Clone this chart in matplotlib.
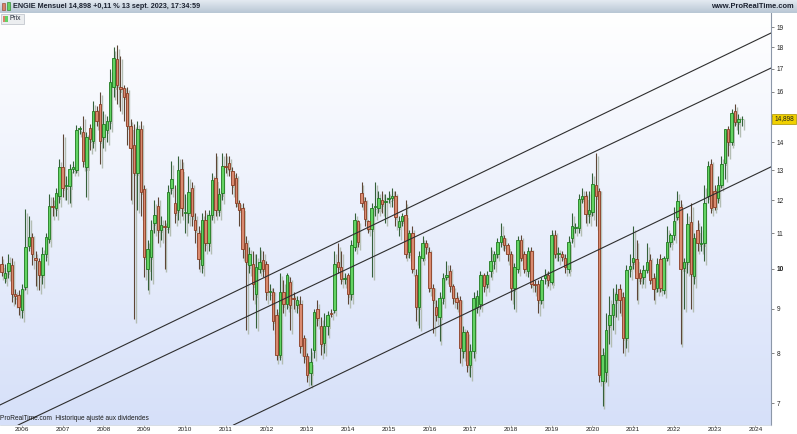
import numpy as np
import pandas as pd
import matplotlib
matplotlib.use("Agg")
import matplotlib.pyplot as plt
from matplotlib.colors import LinearSegmentedColormap
from matplotlib.patches import Rectangle
from matplotlib.transforms import ScaledTranslation
from matplotlib.ticker import FixedLocator, FixedFormatter, NullLocator, NullFormatter

plt.rcParams['font.family'] = ['Liberation Sans', 'DejaVu Sans']

# ENGIE monthly candles, Jul 2005 -> Sep 2023 (prices adjusted for dividends)
months = pd.period_range("2005-07", "2023-09", freq="M")

opens = [
    10.12, 9.75, 9.94, 10.10, 9.35, 9.33, 8.98, 9.53, 10.64, 10.89,
    10.30, 10.20, 9.84, 10.40, 10.83, 11.83, 11.77, 12.12, 13.10, 12.45,
    12.45, 13.05, 13.00, 14.50, 14.39, 13.10, 14.55, 14.05, 15.22, 15.50,
    14.20, 14.45, 14.82, 16.20, 17.45, 16.20, 16.15, 15.95, 14.60, 13.90,
    12.90, 14.50, 12.35, 10.00, 10.33, 11.30, 11.83, 11.10, 11.20, 11.19,
    12.40, 11.90, 11.70, 13.05, 11.60, 11.60, 12.40, 11.40, 11.00, 10.10,
    11.40, 10.70, 11.55, 12.72, 11.70, 12.22, 13.14, 13.26, 12.96, 12.72,
    11.90, 11.75, 10.70, 10.10, 10.12, 9.35, 10.00, 10.25, 10.12, 9.40,
    9.40, 8.85, 7.96, 9.40, 9.10, 9.65, 9.25, 9.08, 9.10, 8.33,
    7.93, 7.59, 8.07, 9.00, 8.60, 8.22, 8.60, 8.90, 8.98, 10.19,
    10.05, 9.74, 9.84, 9.35, 10.61, 11.37, 12.22, 11.96, 11.37, 11.13,
    11.80, 11.74, 12.00, 11.95, 12.05, 12.07, 12.12, 11.19, 11.37, 11.55,
    10.45, 11.00, 9.85, 9.05, 10.30, 10.70, 10.45, 9.50, 9.05, 8.80,
    9.25, 9.80, 9.95, 9.55, 9.25, 9.20, 8.05, 8.45, 7.75, 8.05,
    9.05, 9.10, 9.85, 9.60, 9.95, 10.20, 10.40, 10.75, 10.85, 10.65,
    10.40, 9.50, 10.00, 10.80, 10.40, 9.95, 10.50, 9.62, 9.60, 9.20,
    9.75, 9.85, 9.65, 10.95, 10.40, 10.40, 10.30, 10.00, 10.85, 11.15,
    11.15, 12.05, 12.12, 11.58, 11.62, 12.50, 12.29, 7.43, 7.60, 8.62,
    8.85, 9.20, 9.47, 9.28, 8.33, 10.00, 10.19, 10.28, 9.90, 9.80,
    9.97, 10.25, 9.75, 9.50, 10.28, 9.45, 10.30, 10.75, 10.95, 11.49,
    11.80, 10.02, 10.19, 11.34, 9.82, 11.10, 10.68, 10.70, 12.12, 13.22,
    12.29, 12.07, 12.50, 13.25, 14.48, 13.99, 15.20, 14.78, 14.88,
]
highs = [
    10.36, 10.14, 10.41, 10.30, 9.48, 9.45, 9.60, 11.71, 11.50, 11.00,
    10.50, 10.30, 10.60, 11.00, 12.20, 12.10, 12.40, 13.40, 14.30, 12.80,
    13.20, 13.30, 14.65, 14.60, 15.00, 14.40, 14.70, 15.60, 15.40, 16.00,
    15.20, 15.00, 17.00, 18.00, 18.10, 17.60, 16.30, 16.20, 14.90, 14.70,
    14.80, 14.80, 12.50, 10.80, 11.40, 12.00, 12.10, 11.50, 11.40, 12.50,
    13.30, 12.50, 13.50, 13.40, 12.20, 12.80, 12.60, 11.60, 11.20, 11.60,
    11.70, 11.70, 12.90, 13.60, 12.40, 13.60, 13.60, 13.50, 13.10, 12.90,
    12.00, 11.90, 10.90, 10.60, 10.50, 10.40, 10.60, 10.50, 10.20, 9.60,
    9.50, 9.00, 9.90, 9.70, 9.90, 9.80, 9.40, 9.30, 9.30, 8.40,
    8.00, 8.10, 9.00, 9.20, 8.80, 8.90, 8.95, 9.00, 10.50, 10.70,
    10.50, 9.90, 9.90, 10.80, 11.60, 11.40, 12.60, 12.10, 11.40, 11.90,
    12.60, 12.30, 12.30, 12.20, 12.30, 12.40, 12.30, 11.50, 11.60, 12.00,
    11.10, 11.20, 10.00, 10.50, 10.90, 10.80, 10.60, 9.60, 9.20, 9.40,
    9.90, 10.20, 10.10, 9.60, 9.40, 9.30, 8.60, 8.50, 8.20, 9.40,
    9.45, 9.95, 9.90, 9.95, 10.60, 10.50, 10.85, 11.30, 10.95, 10.70,
    10.50, 10.15, 10.90, 10.95, 10.50, 10.60, 10.60, 9.70, 9.70, 9.80,
    10.00, 9.95, 11.10, 11.10, 10.60, 10.50, 10.40, 10.90, 11.60, 11.30,
    12.20, 12.40, 12.30, 12.30, 12.90, 13.60, 12.40, 8.10, 8.90, 9.30,
    9.50, 9.60, 9.60, 9.40, 10.10, 10.40, 11.20, 10.80, 10.00, 10.10,
    10.70, 10.40, 9.90, 10.30, 10.40, 10.35, 11.20, 11.00, 11.80, 12.30,
    12.00, 10.30, 11.60, 11.90, 11.00, 11.40, 11.20, 12.50, 13.30, 13.40,
    12.50, 12.80, 13.50, 14.50, 14.60, 15.30, 15.50, 15.10, 15.00,
]
lows = [
    9.81, 9.63, 9.76, 9.15, 9.10, 8.85, 8.77, 9.45, 10.50, 10.10,
    9.55, 9.45, 9.60, 10.20, 10.70, 11.50, 11.50, 11.90, 12.10, 12.00,
    11.90, 12.90, 12.90, 14.30, 13.10, 12.10, 13.70, 13.80, 14.60, 13.20,
    13.80, 14.00, 14.50, 15.80, 15.50, 15.20, 14.80, 13.90, 12.00, 8.75,
    11.70, 11.50, 9.80, 9.45, 9.70, 11.00, 10.70, 10.80, 10.00, 11.00,
    12.20, 11.30, 11.40, 11.50, 11.00, 11.30, 11.20, 10.70, 10.00, 9.90,
    10.50, 10.50, 11.40, 11.50, 11.50, 12.00, 12.90, 12.80, 12.20, 11.80,
    11.20, 10.30, 8.50, 9.90, 9.20, 8.55, 9.90, 9.80, 9.20, 9.20,
    8.50, 7.85, 7.85, 8.90, 9.00, 8.50, 9.00, 8.90, 8.00, 7.80,
    7.40, 7.35, 7.90, 8.60, 7.95, 8.00, 8.40, 8.80, 8.90, 9.90,
    9.60, 9.60, 9.10, 9.20, 10.50, 10.60, 11.80, 11.20, 11.00, 9.80,
    11.50, 11.60, 11.60, 11.30, 11.90, 11.80, 11.20, 10.90, 11.20, 10.30,
    10.30, 9.90, 8.70, 8.55, 10.20, 10.40, 9.40, 8.44, 8.70, 8.25,
    9.10, 9.70, 9.40, 9.10, 9.00, 7.80, 7.90, 7.60, 7.50, 7.90,
    8.90, 9.00, 9.40, 9.50, 9.80, 10.00, 10.30, 10.60, 10.50, 10.20,
    9.20, 9.00, 9.90, 10.20, 9.90, 9.80, 9.50, 9.40, 8.90, 9.10,
    9.60, 9.55, 9.60, 10.30, 10.20, 10.20, 9.90, 9.90, 10.70, 11.00,
    11.00, 11.90, 11.30, 11.30, 11.50, 11.20, 7.40, 6.95, 7.40, 8.20,
    8.50, 8.80, 8.90, 8.00, 8.10, 9.80, 10.00, 9.20, 9.60, 9.60,
    9.90, 9.60, 9.20, 9.40, 9.40, 9.35, 10.20, 10.60, 10.80, 11.40,
    8.20, 9.00, 9.90, 9.00, 9.60, 10.50, 10.50, 10.20, 11.90, 11.60,
    11.70, 11.90, 12.40, 12.70, 13.50, 13.90, 14.60, 14.30, 14.60,
]
closes = [
    9.92, 9.90, 10.16, 9.35, 9.30, 9.03, 9.48, 10.61, 10.89, 10.40,
    10.25, 9.84, 10.40, 10.89, 11.83, 11.80, 12.22, 13.10, 12.40, 12.50,
    13.05, 13.10, 14.47, 14.52, 13.31, 14.20, 14.10, 15.22, 14.82, 14.05,
    14.70, 14.80, 16.40, 17.50, 16.30, 16.10, 15.80, 14.60, 13.80, 12.90,
    14.50, 12.27, 10.33, 10.55, 11.10, 11.55, 11.10, 11.25, 11.19, 12.27,
    12.68, 11.60, 13.00, 11.75, 11.62, 12.25, 11.50, 11.10, 10.27, 11.40,
    10.72, 11.55, 12.65, 11.70, 12.19, 13.14, 13.10, 13.05, 12.50, 11.90,
    11.70, 10.55, 10.19, 10.40, 9.60, 10.05, 10.19, 10.00, 9.40, 9.42,
    8.72, 7.96, 9.40, 9.10, 9.84, 9.08, 9.23, 9.22, 8.15, 7.93,
    7.55, 7.81, 8.91, 8.79, 8.20, 8.60, 8.85, 8.88, 10.13, 10.05,
    9.74, 9.76, 9.35, 10.66, 11.40, 10.75, 11.90, 11.43, 11.13, 11.74,
    11.82, 12.07, 11.88, 11.96, 12.07, 12.15, 11.49, 11.37, 11.52, 10.40,
    11.00, 10.00, 9.05, 10.35, 10.70, 10.60, 9.50, 9.20, 8.85, 9.25,
    9.75, 9.85, 9.55, 9.25, 9.15, 8.10, 8.45, 7.75, 8.05, 9.25,
    9.30, 9.85, 9.55, 9.85, 10.20, 10.40, 10.75, 10.90, 10.65, 10.40,
    9.50, 10.05, 10.80, 10.30, 10.00, 10.50, 9.60, 9.58, 9.20, 9.70,
    9.85, 9.70, 10.95, 10.40, 10.42, 10.33, 10.05, 10.75, 11.20, 11.17,
    12.05, 12.15, 11.58, 11.68, 12.52, 12.12, 7.55, 7.95, 8.50, 8.85,
    9.10, 9.35, 9.20, 8.33, 9.97, 10.08, 10.30, 9.75, 9.75, 9.97,
    10.19, 9.70, 9.47, 10.12, 9.50, 10.30, 10.75, 10.95, 11.37, 11.96,
    10.00, 10.19, 11.28, 9.87, 10.85, 10.70, 10.70, 11.90, 13.14, 11.77,
    11.80, 12.50, 13.22, 14.48, 13.99, 15.13, 14.78, 14.88, 14.898,
]

# trend channel (month index, price) at both ends
trend_x = [[-0.5, 226.6], [4.9, 226.6], [68.3, 226.6]]
trend_y = [[6.97, 18.70], [6.61, 17.04], [6.61, 13.11]]

years = list(range(2006, 2025))
price_ticks = list(range(7, 20))
price_labels = ["" if v == 15 else str(v) for v in price_ticks]  # 15 sits under the price tag
last_price = "14,898"

W, H = 797, 434
fig = plt.figure(figsize=(W / 100, H / 100), dpi=100)
rect = [0, 9 / H, 771 / W, 412 / H]

# background gradient behind the plot
bg = fig.add_axes(rect, zorder=0)
grad = LinearSegmentedColormap.from_list("bg", ["#ffffff", "#d6e0f9"])
bg.imshow(np.linspace(0, 1, 256).reshape(-1, 1), cmap=grad, aspect="auto",
          extent=[0, 1, 0, 1])
bg.axis("off")

ax = fig.add_axes(rect, zorder=1)
ax.patch.set_alpha(0)
ax.set_yscale("log")

o = np.array(opens)
h = np.array(highs)
l = np.array(lows)
c = np.array(closes)
x = np.arange(len(months))
up = c >= o
bot = np.minimum(o, c)
hgt = np.maximum(np.abs(c - o), 0.015)

# faint offset shadow like ProRealTime
shadow = ax.transData + ScaledTranslation(1.3 / 72, -2.4 / 72, fig.dpi_scale_trans)
ax.vlines(x, l, h, colors="#b3bdb3", lw=1.0, transform=shadow, zorder=1)
ax.bar(x, hgt, bottom=bot, width=0.72, color="#b9c3b9", edgecolor="none",
       transform=shadow, zorder=1)

for msk, fill, edge, wick in [(up, "#63d363", "#1f7a1f", "#35603a"),
                              (~up, "#d98a70", "#8a3c22", "#5d4636")]:
    ax.vlines(x[msk], l[msk], h[msk], colors=wick, lw=0.8, zorder=2)
    ax.bar(x[msk], hgt[msk], bottom=bot[msk], width=0.72, color=fill,
           edgecolor=edge, linewidth=0.6, zorder=3)

for tx, ty in zip(trend_x, trend_y):
    ax.plot(tx, ty, color="#2e2e2e", lw=0.8, zorder=4)

ax.set_xlim(-0.47, 226.6)
ax.set_ylim(6.61, 19.72)

ax.yaxis.tick_right()
ax.yaxis.set_major_locator(FixedLocator(price_ticks))
ax.yaxis.set_major_formatter(FixedFormatter(price_labels))
ax.yaxis.set_minor_locator(NullLocator())
ax.yaxis.set_minor_formatter(NullFormatter())
ax.xaxis.set_major_locator(FixedLocator([6 + 12 * k for k in range(len(years))]))
ax.xaxis.set_major_formatter(FixedFormatter([str(y) for y in years]))
ax.tick_params(axis="y", length=2.5, width=0.5, colors="#555555", labelsize=4.7,
               pad=1.5, labelcolor="#222222")
ax.tick_params(axis="x", length=1.5, width=0.5, colors="#888888", labelsize=4.6,
               pad=0.2, labelcolor="#222222")
fig.canvas.draw()
for lab in ax.get_yticklabels():
    if lab.get_text() == "10":
        lab.set_fontweight("bold")
for s in ["top", "left"]:
    ax.spines[s].set_visible(False)
ax.spines["right"].set_color("#8c97a8")
ax.spines["right"].set_linewidth(0.8)
ax.spines["bottom"].set_color("#c8d0dc")
ax.spines["bottom"].set_linewidth(0.5)

# overlay in pixel coordinates for header, legend box, price tag
ov = fig.add_axes([0, 0, 1, 1], zorder=5)
hdr = LinearSegmentedColormap.from_list("hdr", ["#e4eaf1", "#b8c6d4"])
ov.imshow(np.linspace(0, 1, 64).reshape(-1, 1), cmap=hdr, aspect="auto",
          extent=[0, W, 13, 0])
ov.set_xlim(0, W)
ov.set_ylim(H, 0)
ov.axis("off")
ov.add_patch(Rectangle((2.5, 3), 3, 7, facecolor="#d9826a", edgecolor="#8a3c22", lw=0.4))
ov.add_patch(Rectangle((7, 2), 3, 8, facecolor="#63d363", edgecolor="#1f7a1f", lw=0.4))
ov.text(13.5, 6.8, "ENGIE Mensuel 14,898 +0,11 % 13 sept. 2023, 17:34:59",
        fontsize=5.2, fontweight="bold", color="#1c2230", va="center", ha="left")
ov.text(794, 6.8, "www.ProRealTime.com", fontsize=5.4, fontweight="bold",
        color="#1c2230", va="center", ha="right")

ov.add_patch(Rectangle((1, 13.5), 23, 10, facecolor="#eceef0", edgecolor="#b8bec6", lw=0.5))
ov.add_patch(Rectangle((3, 15.5), 2.5, 6, facecolor="#d9826a", edgecolor="none"))
ov.add_patch(Rectangle((5.5, 15.5), 2.5, 6, facecolor="#63d363", edgecolor="none"))
ov.text(10, 18.8, "Prix", fontsize=4.8, color="#1c2230", va="center", ha="left")

ov.add_patch(Rectangle((772, 113.5), 24, 10, facecolor="#f0d000", edgecolor="#a89000", lw=0.5))
ov.text(784, 118.8, last_price, fontsize=4.7, color="#202020", va="center", ha="center")

ov.text(0.5, 418, "ProRealTime.com  Historique ajusté aux dividendes", fontsize=4.7,
        color="#1c1c1c", va="center", ha="left")

fig.savefig("out.png", dpi=100, facecolor="white")
